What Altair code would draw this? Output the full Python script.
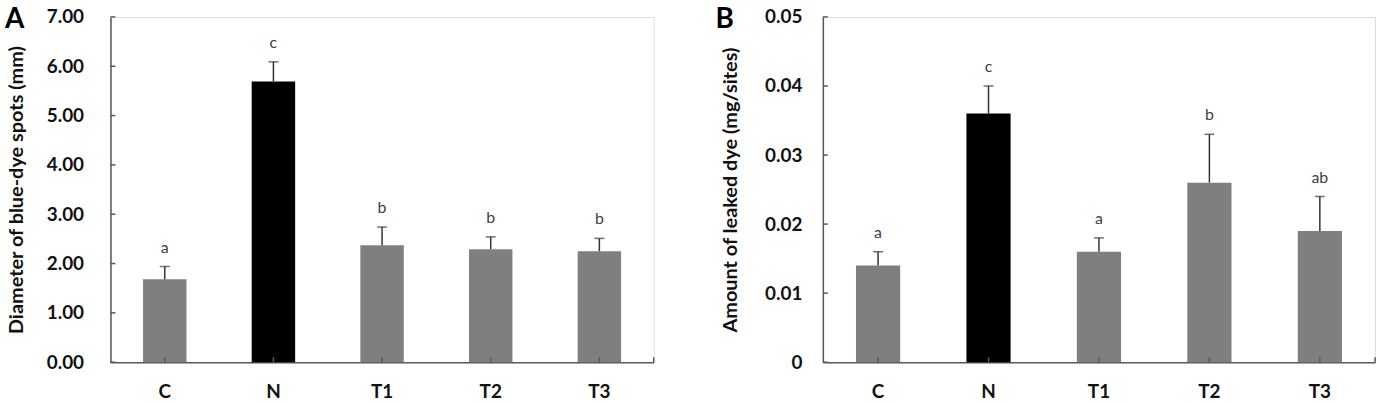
import altair as alt
import pandas as pd

categories = ["C", "N", "T1", "T2", "T3"]
bar_colors = ["#7f7f7f", "#000000", "#7f7f7f", "#7f7f7f", "#7f7f7f"]

# Panel A: diameter of blue-dye spots (mm)
a_values = [1.68, 5.69, 2.37, 2.29, 2.25]
a_upper = [1.94, 6.09, 2.74, 2.54, 2.51]
a_letters = ["a", "c", "b", "b", "b"]
a_ticks = [0, 1, 2, 3, 4, 5, 6, 7]

# Panel B: amount of leaked dye (mg/sites)
b_values = [0.014, 0.036, 0.016, 0.026, 0.019]
b_upper = [0.016, 0.040, 0.018, 0.033, 0.024]
b_letters = ["a", "c", "a", "b", "ab"]
b_ticks = [0, 0.01, 0.02, 0.03, 0.04, 0.05]

FONT = "Lato"
AXIS_COLOR = "#595959"
H = 347


def panel(values, upper, letters, ticks, domain, width, title, panel_letter,
          label_fmt=None, label_expr=None, label_pad=28, title_pad=24, letter_x=-108):
    df = pd.DataFrame({"cat": categories, "val": values, "top": upper,
                       "letter": letters, "color": bar_colors})
    tdf = pd.DataFrame({"v": ticks})
    one = pd.DataFrame({"k": [panel_letter]})

    xscale = alt.Scale(domain=categories, paddingInner=0.6, paddingOuter=0.3)
    xenc = alt.X("cat:N", sort=categories, scale=xscale,
                 axis=alt.Axis(title=None, labelAngle=0, ticks=False, tickSize=0,
                               labelPadding=20, labelFontSize=19, labelFontWeight="bold",
                               labelColor="#111111", domainColor=AXIS_COLOR,
                               domainWidth=1.5, grid=False, labelFont=FONT))
    yaxis_kwargs = dict(title=title, values=ticks, ticks=False, tickSize=0, grid=False,
                        labelPadding=label_pad, labelFontSize=19, labelFontWeight="bold",
                        labelColor="#111111", domainColor=AXIS_COLOR, domainWidth=1.5,
                        titleFontSize=20, titleFontWeight="bold", titleColor="#111111",
                        titlePadding=title_pad, labelFont=FONT, titleFont=FONT)
    if label_fmt is not None:
        yaxis_kwargs["format"] = label_fmt
    if label_expr is not None:
        yaxis_kwargs["labelExpr"] = label_expr
    yscale = alt.Scale(domain=domain, nice=False, zero=True)
    yenc = alt.Y("val:Q", scale=yscale, axis=alt.Axis(**yaxis_kwargs))

    base = alt.Chart(df)
    bars = base.mark_bar().encode(x=xenc, y=yenc,
                                  color=alt.Color("color:N", scale=None))
    err = base.mark_rule(color="#333333", strokeWidth=1.5).encode(
        x=alt.X("cat:N", sort=categories), y=alt.Y("val:Q"), y2="top:Q")
    cap = base.mark_tick(color="#333333", thickness=1.5, size=10, orient="horizontal").encode(
        x=alt.X("cat:N", sort=categories), y=alt.Y("top:Q"))
    txt = base.mark_text(dy=-14, baseline="alphabetic", fontSize=16, color="#404040",
                         font=FONT).encode(
        x=alt.X("cat:N", sort=categories), y=alt.Y("top:Q"), text="letter:N")
    xt = base.mark_rule(color=AXIS_COLOR, strokeWidth=1.5).encode(
        x=alt.X("cat:N", sort=categories), y=alt.value(H), y2=alt.value(H - 5))
    yt = alt.Chart(tdf).mark_rule(color=AXIS_COLOR, strokeWidth=1.5).encode(
        y=alt.Y("v:Q"), x=alt.value(0), x2=alt.value(5))
    endt = alt.Chart(one).mark_rule(color=AXIS_COLOR, strokeWidth=1.5).encode(
        x=alt.value(width), y=alt.value(H), y2=alt.value(H - 5))
    lab = alt.Chart(one).mark_text(align="left", baseline="top", fontSize=28,
                                   fontWeight="bold", color="#000000", font=FONT).encode(
        x=alt.value(letter_x), y=alt.value(-11), text="k:N")
    return alt.layer(bars, err, cap, txt, xt, yt, endt, lab).properties(width=width, height=H)


pa = panel(a_values, a_upper, a_letters, a_ticks, [0, 7], 546,
           "Diameter of blue-dye spots (mm)", "A", label_fmt=".2f",
           label_pad=27, title_pad=20, letter_x=-106)
pb = panel(b_values, b_upper, b_letters, b_ticks, [0, 0.05], 555,
           "Amount of leaked dye (mg/sites)", "B",
           label_expr="datum.value == 0 ? '0' : format(datum.value, '.2f')",
           label_pad=21, title_pad=24, letter_x=-108)

chart = alt.hconcat(pa, pb, spacing=59).properties(
    padding={"left": 4, "top": 4, "right": 10, "bottom": 0}
).configure_view(strokeWidth=0).configure(font=FONT)

chart.save("out.html", embed_options={"renderer": "svg", "actions": False})
